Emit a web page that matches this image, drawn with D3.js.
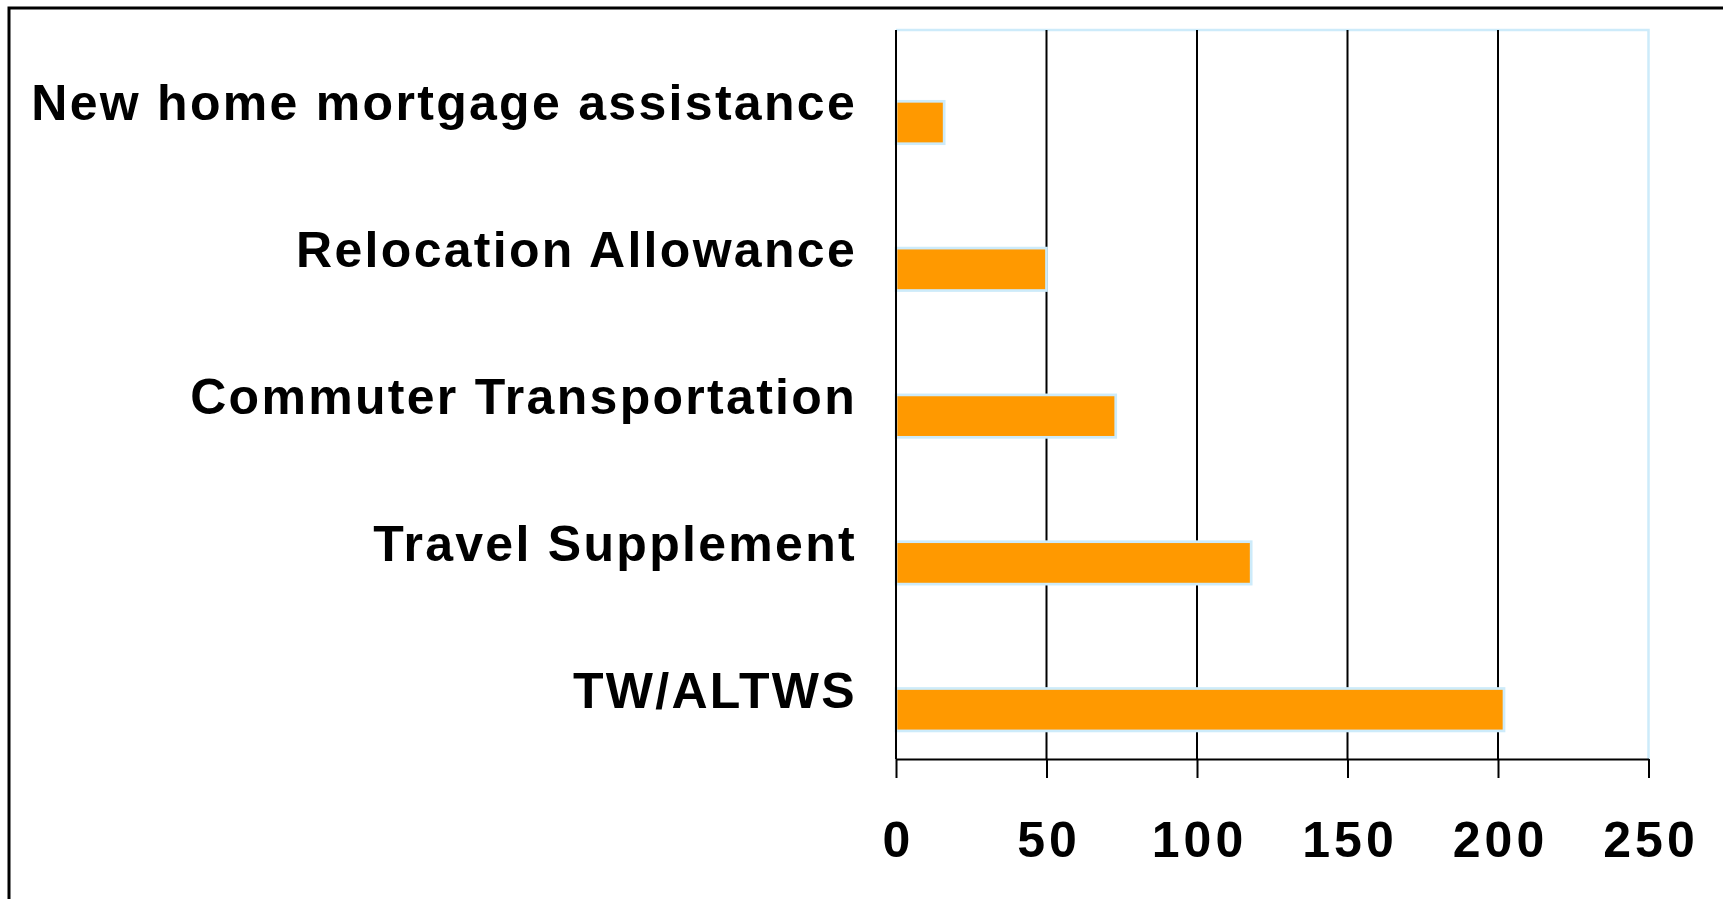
<!DOCTYPE html>
<html>
<head>
<meta charset="utf-8">
<script src="https://cdn.jsdelivr.net/npm/d3@7"></script>
<style>
  html, body { margin: 0; padding: 0; background: #fff; overflow: hidden; }
  text { font-family: "Liberation Sans", Arial, sans-serif; font-weight: bold; }
</style>
</head>
<body>
<div id="chart"></div>
<script>
// data
const categories = ["New home mortgage assistance", "Relocation Allowance", "Commuter Transportation", "Travel Supplement", "TW/ALTWS"];
const values = [16, 50, 73, 118, 202];
const xTicks = [0, 50, 100, 150, 200, 250];

const width = 1723, height = 899;

const svg = d3.select("#chart")
              .append("svg")
              .attr("width", width)
              .attr("height", height);

// outer frame (right and bottom edges fall outside the picture)
svg.append("rect")
   .attr("x", 9)
   .attr("y", 8)
   .attr("width", width + 20)
   .attr("height", height + 20)
   .attr("fill", "none")
   .attr("stroke", "black")
   .attr("stroke-width", 3);

const plotLeft = 896, plotRight = 1648.5, plotTop = 30, axisY = 759;

const x = d3.scaleLinear().domain([0, 250]).range([plotLeft, plotRight]);
const y = d3.scaleBand().domain(categories).range([29, 763]);

// plot area border (light blue on top and right)
svg.append("path")
   .attr("d", `M${plotLeft},${plotTop}H${plotRight}V${axisY}`)
   .attr("fill", "none")
   .attr("stroke", "#cdebfa")
   .attr("stroke-width", 2.5);

// vertical gridlines
svg.selectAll(".grid")
   .data(xTicks.filter(t => t < 250))
   .enter()
   .append("line")
   .attr("x1", d => x(d))
   .attr("x2", d => x(d))
   .attr("y1", plotTop)
   .attr("y2", axisY)
   .attr("stroke", "black")
   .attr("stroke-width", 2);

// bars
svg.selectAll(".bar")
   .data(values)
   .enter()
   .append("rect")
   .attr("x", x(0))
   .attr("y", (d, i) => y(categories[i]) + y.bandwidth() * 0.4925)
   .attr("width", d => x(d) - x(0))
   .attr("height", y.bandwidth() * 0.289)
   .attr("fill", "#ff9900")
   .attr("stroke", "#cdebfa")
   .attr("stroke-width", 2.7);

// redraw zero line over bar borders
svg.append("line")
   .attr("x1", x(0))
   .attr("x2", x(0))
   .attr("y1", plotTop)
   .attr("y2", axisY)
   .attr("stroke", "black")
   .attr("stroke-width", 2);

// x axis
const xAxis = d3.axisBottom(x)
                .tickValues(xTicks)
                .tickSize(19)
                .tickPadding(43)
                .tickSizeOuter(0);

const gx = svg.append("g")
   .attr("transform", `translate(0,${axisY})`)
   .call(xAxis);

gx.select(".domain").attr("stroke", "black").attr("stroke-width", 2);
gx.selectAll(".tick line").attr("stroke", "black").attr("stroke-width", 2);
gx.selectAll(".tick text")
  .attr("fill", "black")
  .attr("font-size", "50px")
  .attr("letter-spacing", "4px")
  .attr("font-family", "'Liberation Sans', Arial, sans-serif")
  .attr("font-weight", "bold")
  .attr("dx", "2px");

// category labels
svg.selectAll(".label")
   .data(categories)
   .enter()
   .append("text")
   .attr("x", 857)
   .attr("y", d => y(d) + y.bandwidth() / 2 + 18)
   .attr("text-anchor", "end")
   .attr("font-size", "50px")
   .attr("letter-spacing", "2.3px")
   .attr("fill", "black")
   .text(d => d);
</script>
</body>
</html>
